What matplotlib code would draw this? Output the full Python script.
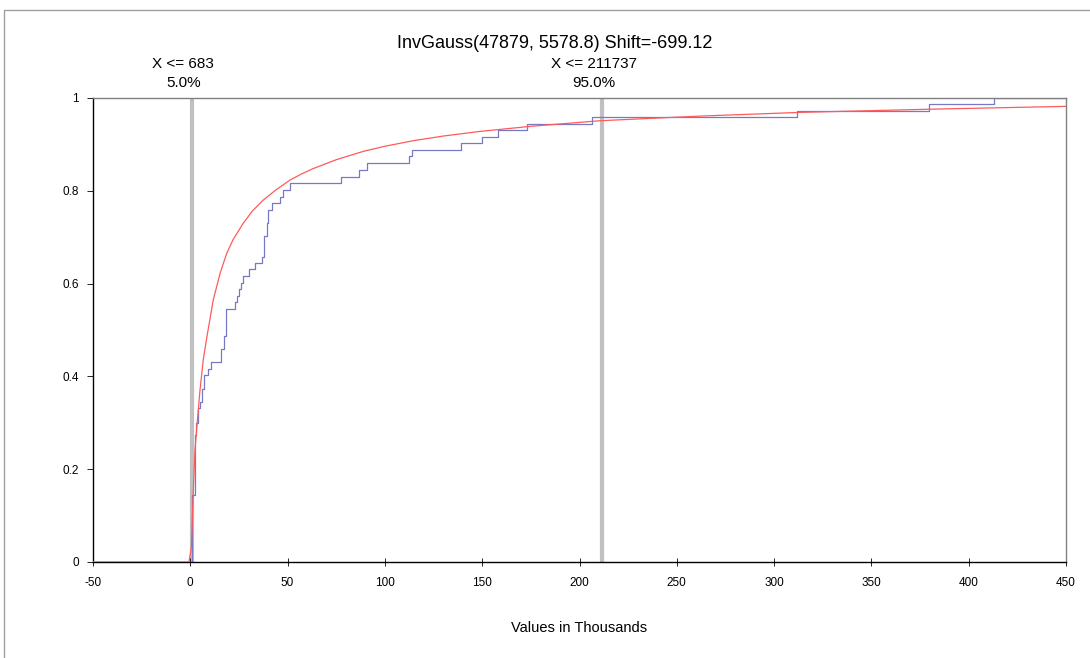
import matplotlib
matplotlib.use('Agg')
import matplotlib.pyplot as plt
from matplotlib.lines import Line2D

plt.rcParams['font.family'] = ['Liberation Sans', 'DejaVu Sans']

# empirical CDF (blue steps): jump positions (thousands) and level after the jump
step_x = [-50, 1.0, 2.4, 2.9, 4.1, 5.1, 6.2, 7.2, 9.2, 10.6, 15.6, 17.3, 18.3,
          23.0, 24.0, 25.2, 26.2, 27.2, 30.3, 33.4, 36.7, 37.9, 39.3, 40.1, 41.8,
          46.1, 47.5, 51.2, 77.4, 86.8, 91.0, 112.6, 114.1, 139.3, 149.7, 158.3,
          173.2, 206.3, 311.6, 379.8, 413.2, 450]
step_y = [0.0, 0.144, 0.274, 0.300, 0.332, 0.345, 0.373, 0.403, 0.416, 0.430,
          0.458, 0.487, 0.545, 0.561, 0.573, 0.588, 0.602, 0.616, 0.631, 0.644,
          0.658, 0.703, 0.730, 0.759, 0.773, 0.787, 0.802, 0.816, 0.830, 0.845,
          0.859, 0.874, 0.888, 0.902, 0.915, 0.930, 0.944, 0.958, 0.973, 0.987,
          1.0, 1.0]

# fitted InvGauss CDF (red)
fit_x = [-50, -0.7, 0.5, 1.5, 2.4, 3.8, 5.0, 6.7, 8.4, 11.8, 15.3, 18.7, 22.0,
         27.2, 32.0, 37.5, 44.0, 51.2, 57.0, 63.2, 75.0, 88.9, 100.0, 114.6,
         130.0, 148.9, 175.0, 210.5, 261.9, 313.3, 381.7, 450]
fit_y = [0.0, 0.0, 0.03, 0.148, 0.241, 0.313, 0.371, 0.437, 0.482, 0.565, 0.622,
         0.665, 0.695, 0.730, 0.757, 0.780, 0.802, 0.823, 0.836, 0.848, 0.867,
         0.885, 0.896, 0.908, 0.918, 0.928, 0.939, 0.951, 0.961, 0.969, 0.976,
         0.982]

# percentile markers
marker_x = [0.683, 211.737]
marker_text = ["X <= 683\n5.0%", "X <= 211737\n95.0%"]

x_ticks = list(range(-50, 451, 50))
y_ticks = [0, 0.2, 0.4, 0.6, 0.8, 1]
y_labels = ["0", "0.2", "0.4", "0.6", "0.8", "1"]

fig = plt.figure(figsize=(10.9, 6.58), dpi=100)
ax = fig.add_axes([93 / 1090, 96 / 658, 973 / 1090, 464 / 658])

for mx in marker_x:
    ax.plot([mx, mx], [0, 1], color="#c0c0c0", lw=3, solid_capstyle="butt", zorder=1)

ax.plot(fit_x, fit_y, color="#ff5a5a", lw=0.9, zorder=3)
ax.step(step_x, step_y, where="post", color="#7878c8", lw=0.9, zorder=2)

for mx, txt in zip(marker_x, marker_text):
    ax.annotate(txt, xy=(mx, 1), xycoords="data", xytext=(-6, 6),
                textcoords="offset points", ha="center", va="bottom",
                fontsize=11, linespacing=1.45, annotation_clip=False)

ax.set_xlim(-50, 450)
ax.set_ylim(0, 1)
ax.set_xticks(x_ticks)
ax.set_xticklabels([str(v) for v in x_ticks])
ax.set_yticks(y_ticks)
ax.set_yticklabels(y_labels)
ax.tick_params(axis="x", direction="inout", length=6, width=0.6, labelsize=8.5, pad=8)
ax.tick_params(axis="y", direction="out", length=4, width=0.6, labelsize=8.5, pad=6)

ax.spines["left"].set_color("black")
ax.spines["bottom"].set_color("black")
ax.spines["top"].set_color("#808080")
ax.spines["right"].set_color("#808080")
for s in ax.spines.values():
    s.set_linewidth(1.0)

ax.set_xlabel("Values in Thousands", fontsize=10.5, labelpad=23)
fig.text(555 / 1090, 1 - 43 / 658, "InvGauss(47879, 5578.8) Shift=-699.12",
         ha="center", va="center", fontsize=13)

# outer chart border (cut off by the image edge)
fig.add_artist(Line2D([4 / 1090, 4 / 1090, 1.0], [0.0, 1 - 9.5 / 658, 1 - 9.5 / 658],
                      transform=fig.transFigure, color="#a0a0a0", lw=1.0))

fig.savefig("out.png", dpi=100)
